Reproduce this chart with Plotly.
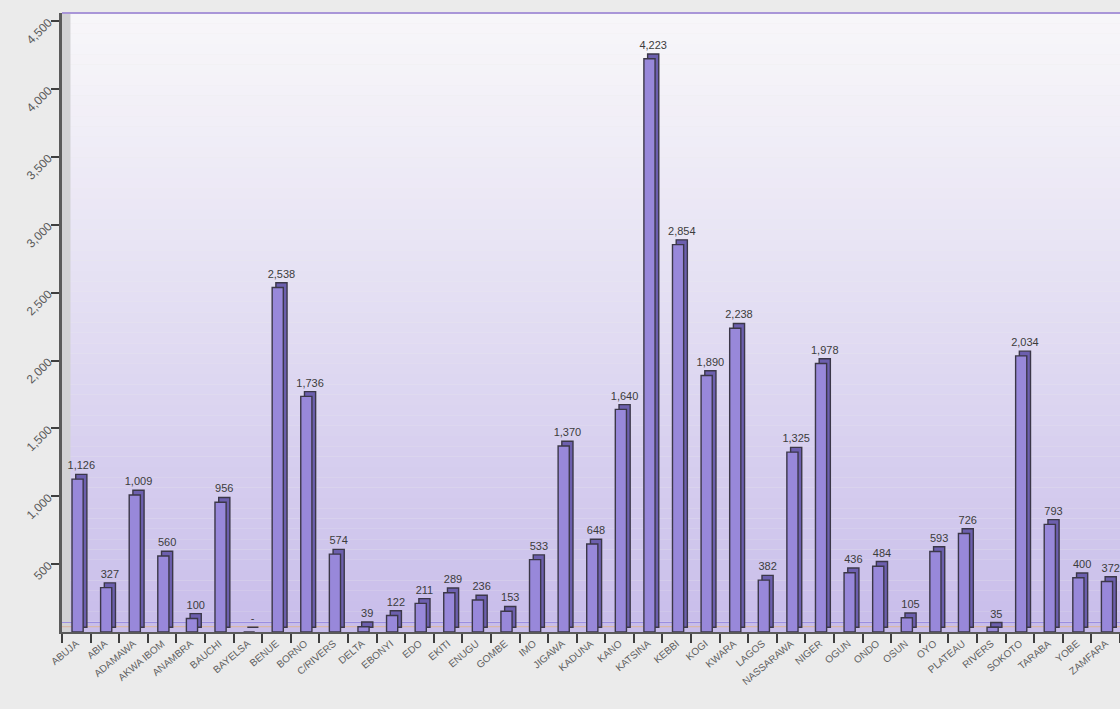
import plotly.graph_objects as go

# States and their values
states = [
    "ABUJA", "ABIA", "ADAMAWA", "AKWA IBOM", "ANAMBRA", "BAUCHI", "BAYELSA",
    "BENUE", "BORNO", "C/RIVERS", "DELTA", "EBONYI", "EDO", "EKITI", "ENUGU",
    "GOMBE", "IMO", "JIGAWA", "KADUNA", "KANO", "KATSINA", "KEBBI", "KOGI",
    "KWARA", "LAGOS", "NASSARAWA", "NIGER", "OGUN", "ONDO", "OSUN", "OYO",
    "PLATEAU", "RIVERS", "SOKOTO", "TARABA", "YOBE", "ZAMFARA",
]
values = [
    1126, 327, 1009, 560, 100, 956, 0,
    2538, 1736, 574, 39, 122, 211, 289, 236,
    153, 533, 1370, 648, 1640, 4223, 2854, 1890,
    2238, 382, 1325, 1978, 436, 484, 105, 593,
    726, 35, 2034, 793, 400, 372,
]
y_ticks = [500, 1000, 1500, 2000, 2500, 3000, 3500, 4000, 4500]

labels = ["-" if v == 0 else f"{v:,}" for v in values]

DEPTH = 35  # vertical lift of the back face, in value units
FONT = "Liberation Sans, Arial, sans-serif"
LABEL_FONT = dict(family=FONT, size=11, color="#3c3c3c")

fig = go.Figure()

# back face (gives the bars a shallow 3D look)
fig.add_trace(go.Bar(
    x=states, y=values, base=DEPTH,
    width=0.39, offset=-0.02,
    marker=dict(color="#6c5fae", line=dict(color="#3b3748", width=1.4)),
    text=labels, textposition="outside", cliponaxis=False,
    constraintext="none",
    textfont=LABEL_FONT, outsidetextfont=LABEL_FONT,
    hoverinfo="skip",
))
# front face
fig.add_trace(go.Bar(
    x=states, y=values,
    width=0.39, offset=-0.15,
    marker=dict(color="#9888da", line=dict(color="#3b3748", width=1.4)),
    hovertemplate="%{x}: %{y:,}<extra></extra>",
))

# vertical gradient behind the plot area
shapes = []
n_bands = 60
top_rgb = (247, 246, 249)
bot_rgb = (200, 189, 234)
for i in range(n_bands):
    t = i / (n_bands - 1)
    t2 = t ** 1.15
    r = round(top_rgb[0] + (bot_rgb[0] - top_rgb[0]) * t2)
    g = round(top_rgb[1] + (bot_rgb[1] - top_rgb[1]) * t2)
    b = round(top_rgb[2] + (bot_rgb[2] - top_rgb[2]) * t2)
    y1 = 1 - i / n_bands
    y0 = 1 - (i + 1) / n_bands
    shapes.append(dict(
        type="rect", xref="paper", yref="paper",
        x0=0, x1=1, y0=y0, y1=y1,
        fillcolor=f"rgb({r},{g},{b})", line=dict(width=0), layer="below",
    ))

# left wall strip
shapes.append(dict(
    type="rect", xref="paper", yref="paper", x0=0, x1=0.008, y0=0, y1=1,
    fillcolor="#d2d2d4", line=dict(width=0), layer="below",
))
# floor lines
shapes.append(dict(
    type="line", xref="paper", yref="y", x0=0, x1=1, y0=70, y1=70,
    line=dict(color="#9b8fe0", width=1.2), layer="below",
))
shapes.append(dict(
    type="line", xref="paper", yref="y", x0=0, x1=1, y0=40, y1=40,
    line=dict(color="#d8b8a8", width=1.2), layer="below",
))
# top border
shapes.append(dict(
    type="line", xref="paper", yref="paper", x0=0, x1=1, y0=1, y1=1,
    line=dict(color="#a996d8", width=2),
))

fig.update_layout(
    width=1120, height=709,
    margin=dict(l=62, r=0, t=13, b=77),
    paper_bgcolor="#ebebeb",
    plot_bgcolor="rgba(0,0,0,0)",
    barmode="overlay",
    showlegend=False,
    shapes=shapes,
    font=dict(family=FONT, color="#555555"),
    xaxis=dict(
        type="category",
        range=[-0.5, len(states) - 0.5],
        tickangle=-40,
        tickfont=dict(family=FONT, size=10, color="#5f5f5f"),
        ticks="outside", ticklen=9, tickwidth=2, tickcolor="#3f3f3f",
        tickson="boundaries",
        showline=True, linecolor="#5a5a5a", linewidth=2,
        showgrid=False, zeroline=False,
    ),
    yaxis=dict(
        range=[0, 4560],
        tickvals=y_ticks,
        tickformat=",",
        tickangle=-45,
        tickfont=dict(family=FONT, size=12, color="#5a5a5a"),
        ticks="outside", ticklen=8, tickwidth=2, tickcolor="#3f3f3f",
        showline=True, linecolor="#5a5a5a", linewidth=3,
        showgrid=False, zeroline=False,
    ),
)

fig.write_html("out.html")
